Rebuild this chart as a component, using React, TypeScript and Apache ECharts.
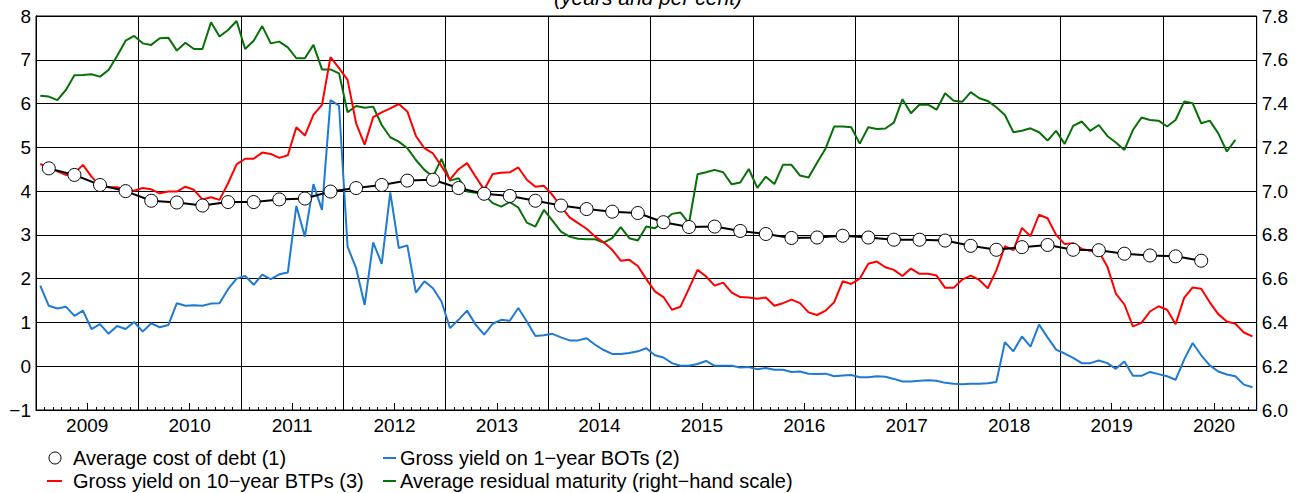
import React, { useEffect, useRef } from "react";
import * as echarts from "echarts";

// Time axis: months counted from January 2009 (0 = 1 Jan 2009); monthly points sit mid-month.
const FIRST_YEAR = 2009;
const AXIS_MONTHS = 143; // axis runs to 1 Dec 2020
const yearLabels = ["2009", "2010", "2011", "2012", "2013", "2014", "2015", "2016", "2017", "2018", "2019", "2020"];

// Average cost of debt (1) – quarterly, first observation Feb 2009
const costOfDebt = [
  4.52, 4.37, 4.14, 4.0, 3.78, 3.74, 3.67, 3.75, 3.75, 3.81, 3.83, 3.99, 4.07, 4.14, 4.24, 4.26,
  4.07, 3.94, 3.89, 3.78, 3.67, 3.59, 3.53, 3.5, 3.29, 3.18, 3.19, 3.09, 3.02, 2.93, 2.94, 2.98,
  2.94, 2.89, 2.89, 2.87, 2.75, 2.66, 2.72, 2.77, 2.66, 2.65, 2.57, 2.53, 2.51, 2.41,
];

// Gross yield on 1-year BOTs (2) – monthly from Jan 2009
const botYield = [
  1.84, 1.38, 1.32, 1.36, 1.15, 1.27, 0.85, 0.96, 0.74, 0.92, 0.85, 1.01,
  0.79, 0.98, 0.89, 0.94, 1.44, 1.38, 1.39, 1.38, 1.43, 1.44, 1.76, 2.0,
  2.06, 1.86, 2.09, 1.99, 2.1, 2.14, 3.66, 2.96, 4.16, 3.57, 6.08, 5.95,
  2.73, 2.24, 1.4, 2.83, 2.34, 3.97, 2.7, 2.76, 1.68, 1.94, 1.78, 1.48,
  0.87, 1.06, 1.27, 0.95, 0.72, 0.97, 1.06, 1.04, 1.33, 1.02, 0.69, 0.71,
  0.74, 0.66, 0.59, 0.59, 0.64, 0.49, 0.37, 0.28, 0.28, 0.3, 0.34, 0.41,
  0.25, 0.2, 0.07, 0.01, 0.01, 0.05, 0.12, 0.01, 0.01, 0.01, -0.03, -0.02,
  -0.07, -0.04, -0.08, -0.08, -0.13, -0.12, -0.17, -0.18, -0.17, -0.23, -0.21, -0.2,
  -0.25, -0.25, -0.23, -0.24, -0.29, -0.35, -0.35, -0.33, -0.32, -0.33, -0.38, -0.4,
  -0.41, -0.4, -0.4, -0.39, -0.36, 0.55, 0.34, 0.68, 0.45, 0.95, 0.66, 0.38,
  0.29, 0.19, 0.07, 0.07, 0.13, 0.07, -0.06, 0.11, -0.22, -0.22, -0.13, -0.18,
  -0.23, -0.31, 0.15, 0.53, 0.25, 0.02, -0.12, -0.19, -0.23, -0.42, -0.48,
];

// Gross yield on 10-year BTPs (3) – monthly from Jan 2009
const btpYield = [
  4.62, 4.53, 4.45, 4.37, 4.41, 4.6, 4.33, 4.12, 4.09, 4.09, 4.03, 4.01,
  4.07, 4.04, 3.95, 3.99, 3.99, 4.1, 4.03, 3.81, 3.86, 3.8, 4.18, 4.61,
  4.74, 4.74, 4.88, 4.85, 4.76, 4.82, 5.46, 5.27, 5.74, 5.97, 7.06, 6.81,
  6.54, 5.55, 5.06, 5.69, 5.8, 5.89, 5.99, 5.82, 5.26, 4.98, 4.86, 4.57,
  4.26, 4.5, 4.64, 4.33, 4.03, 4.39, 4.42, 4.43, 4.54, 4.26, 4.1, 4.12,
  3.91, 3.65, 3.4, 3.27, 3.14, 2.96, 2.83, 2.66, 2.41, 2.43, 2.29, 1.99,
  1.71, 1.58, 1.29, 1.36, 1.78, 2.2, 2.05, 1.84, 1.91, 1.68, 1.58, 1.57,
  1.54, 1.57, 1.38, 1.44, 1.52, 1.44, 1.23, 1.17, 1.27, 1.46, 1.94, 1.88,
  2.0, 2.34, 2.39, 2.26, 2.2, 2.06, 2.23, 2.11, 2.11, 2.07, 1.79, 1.79,
  1.98, 2.07, 1.97, 1.78, 2.19, 2.74, 2.65, 3.16, 2.97, 3.46, 3.38, 3.0,
  2.79, 2.81, 2.68, 2.64, 2.62, 2.28, 1.66, 1.41, 0.91, 0.99, 1.25, 1.37,
  1.29, 0.96, 1.56, 1.8, 1.77, 1.46, 1.19, 1.02, 0.97, 0.77, 0.68,
];

// Average residual maturity, years (right-hand scale) – monthly from Jan 2009
const residualMaturity = [
  7.436, 7.432, 7.416, 7.462, 7.529, 7.531, 7.534, 7.523, 7.553, 7.617, 7.687, 7.709,
  7.675, 7.668, 7.698, 7.701, 7.642, 7.678, 7.649, 7.649, 7.771, 7.706, 7.736, 7.777,
  7.649, 7.687, 7.754, 7.675, 7.683, 7.657, 7.607, 7.607, 7.668, 7.556, 7.556, 7.538,
  7.36, 7.389, 7.381, 7.386, 7.302, 7.246, 7.226, 7.196, 7.142, 7.097, 7.066, 7.147,
  7.048, 7.059, 6.998, 6.993, 6.983, 6.945, 6.929, 6.95, 6.925, 6.856, 6.838, 6.914,
  6.865, 6.815, 6.792, 6.782, 6.78, 6.78, 6.765, 6.785, 6.835, 6.785, 6.774, 6.838,
  6.83, 6.861, 6.896, 6.902, 6.853, 7.077, 7.086, 7.097, 7.086, 7.031, 7.039, 7.101,
  7.015, 7.066, 7.032, 7.12, 7.12, 7.071, 7.062, 7.13, 7.195, 7.295, 7.295, 7.292,
  7.217, 7.292, 7.284, 7.286, 7.313, 7.42, 7.356, 7.396, 7.395, 7.372, 7.447, 7.413,
  7.408, 7.452, 7.424, 7.412, 7.383, 7.348, 7.269, 7.276, 7.287, 7.269, 7.231, 7.275,
  7.216, 7.298, 7.318, 7.275, 7.302, 7.252, 7.222, 7.188, 7.279, 7.336, 7.325, 7.322,
  7.295, 7.325, 7.409, 7.401, 7.31, 7.322, 7.264, 7.181, 7.234,
];

const NAME_COST = "Average cost of debt (1)";
const NAME_BOT = "Gross yield on 1\u2212year BOTs (2)";
const NAME_BTP = "Gross yield on 10\u2212year BTPs (3)";
const NAME_MAT = "Average residual maturity (right\u2212hand scale)";

const RED = "#ff0000";
const BLUE = "#1f7ad3";
const GREEN = "#087008";
const FONT = '"Liberation Sans", Arial, sans-serif';
const FS = 19;
const LEGEND_FS = 20;

const monthly = (vals: number[]) => vals.map((v, i) => [i + 0.5, v]);
const quarterly = (vals: number[]) => vals.map((v, i) => [1 + 3 * i + 0.5, v]);

export default function App() {
  const ref = useRef<HTMLDivElement>(null);

  useEffect(() => {
    if (!ref.current) return;
    const chart = echarts.init(ref.current, undefined, { renderer: "svg" });

    const baseX = {
      type: "value",
      min: 0,
      max: AXIS_MONTHS,
      position: "bottom",
      axisLine: { show: false, onZero: false },
      axisTick: { show: false },
      axisLabel: { show: false },
      splitLine: { show: false },
    };

    const legendText = (x: number, y: number, text: string) => ({
      type: "text",
      x,
      y,
      style: {
        text,
        font: `${LEGEND_FS}px ${FONT}`,
        fill: "#000",
        verticalAlign: "middle",
        textVerticalAlign: "middle",
      },
    });

    const option: any = {
      animation: false,
      backgroundColor: "#fff",
      grid: {
        left: 36,
        top: 16,
        width: 1220.7,
        height: 394,
        show: true,
        borderColor: "#000",
        borderWidth: 1,
        containLabel: false,
      },
      xAxis: [
        {
          ...baseX,
          interval: 12,
          axisLine: { show: true, onZero: false, lineStyle: { color: "#000", width: 1 } },
          splitLine: { show: true, lineStyle: { color: "#000", width: 1 } },
        },
        {
          ...baseX,
          interval: 1,
          axisTick: { show: true, inside: true, length: 3, lineStyle: { color: "#000", width: 1 } },
        },
        {
          ...baseX,
          interval: 6,
          axisTick: { show: true, inside: true, length: 7, lineStyle: { color: "#000", width: 1 } },
          axisLabel: {
            show: true,
            margin: 6,
            fontSize: FS,
            fontFamily: FONT,
            color: "#000",
            formatter: (v: number) => {
              const r = Math.round(v);
              if (r % 12 !== 6) return "";
              const idx = (r - 6) / 12;
              return yearLabels[idx] ?? String(FIRST_YEAR + idx);
            },
          },
        },
      ],
      yAxis: [
        {
          type: "value",
          min: -1,
          max: 8,
          interval: 1,
          position: "left",
          axisLine: { show: true, lineStyle: { color: "#000", width: 1 } },
          axisTick: { show: false },
          axisLabel: {
            margin: 5,
            fontSize: FS,
            fontFamily: FONT,
            color: "#000",
            formatter: (v: number) => (v < 0 ? "\u2212" + Math.abs(v) : String(v)),
          },
          splitLine: { show: true, lineStyle: { color: "#000", width: 1 } },
        },
        {
          type: "value",
          min: 6,
          max: 7.8,
          interval: 0.2,
          position: "right",
          axisLine: { show: true, lineStyle: { color: "#000", width: 1 } },
          axisTick: { show: false },
          axisLabel: {
            margin: 5,
            fontSize: FS,
            fontFamily: FONT,
            color: "#000",
            formatter: (v: number) => v.toFixed(1),
          },
          splitLine: { show: false },
        },
      ],
      series: [
        {
          name: NAME_MAT,
          type: "line",
          xAxisIndex: 0,
          yAxisIndex: 1,
          data: monthly(residualMaturity),
          symbol: "none",
          lineStyle: { color: GREEN, width: 2 },
          itemStyle: { color: GREEN },
          z: 2,
        },
        {
          name: NAME_BOT,
          type: "line",
          xAxisIndex: 0,
          yAxisIndex: 0,
          data: monthly(botYield),
          symbol: "none",
          lineStyle: { color: BLUE, width: 2 },
          itemStyle: { color: BLUE },
          z: 3,
        },
        {
          name: NAME_BTP,
          type: "line",
          xAxisIndex: 0,
          yAxisIndex: 0,
          data: monthly(btpYield),
          symbol: "none",
          lineStyle: { color: RED, width: 2 },
          itemStyle: { color: RED },
          z: 4,
        },
        {
          name: NAME_COST,
          type: "line",
          xAxisIndex: 0,
          yAxisIndex: 0,
          data: quarterly(costOfDebt),
          symbol: "circle",
          symbolSize: 13,
          showSymbol: true,
          lineStyle: { color: "#000", width: 2 },
          itemStyle: { color: "#fff", borderColor: "#000", borderWidth: 1 },
          z: 5,
        },
      ],
      graphic: [
        {
          type: "text",
          x: 648,
          y: -3,
          style: {
            text: "(years and per cent)",
            font: `italic 21px ${FONT}`,
            fill: "#000",
            textAlign: "center",
            align: "center",
            textVerticalAlign: "middle",
            verticalAlign: "middle",
          },
        },
        {
          type: "circle",
          shape: { cx: 55, cy: 458, r: 6 },
          style: { fill: "#fff", stroke: "#000", lineWidth: 1 },
        },
        legendText(73, 458, NAME_COST),
        {
          type: "line",
          shape: { x1: 47, y1: 481, x2: 62, y2: 481 },
          style: { stroke: RED, lineWidth: 2 },
        },
        legendText(73, 481, NAME_BTP),
        {
          type: "line",
          shape: { x1: 383, y1: 458, x2: 396, y2: 458 },
          style: { stroke: BLUE, lineWidth: 2 },
        },
        legendText(400, 458, NAME_BOT),
        {
          type: "line",
          shape: { x1: 383, y1: 481, x2: 396, y2: 481 },
          style: { stroke: GREEN, lineWidth: 2 },
        },
        legendText(400, 481, NAME_MAT),
      ],
    };

    chart.setOption(option);
    return () => chart.dispose();
  }, []);

  return <div ref={ref} style={{ position: "absolute", left: 0, top: 0, width: 1301, height: 493 }} />;
}
